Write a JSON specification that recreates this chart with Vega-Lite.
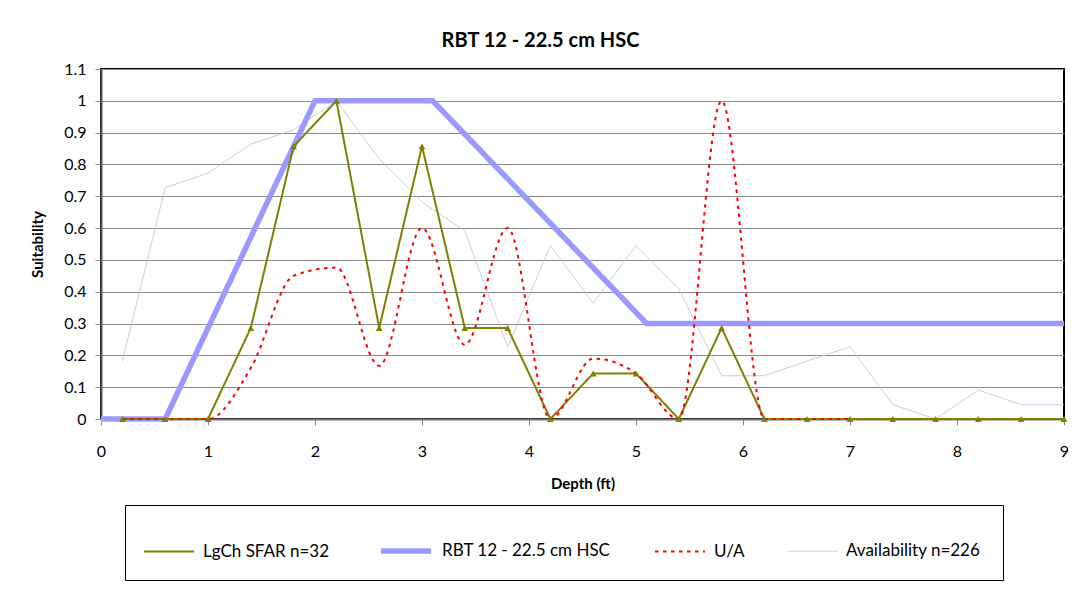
{
  "$schema": "https://vega.github.io/schema/vega-lite/v6.json",
  "width": 963,
  "height": 350,
  "autosize": {"type": "none"},
  "padding": {"left": 101, "top": 69, "right": 8, "bottom": 178},
  "background": "white",
  "config": {
    "font": "Lato",
    "view": {"stroke": "black", "strokeWidth": 2},
    "axis": {"labelFont": "Lato", "titleFont": "Lato", "labelColor": "black", "titleColor": "black"}
  },
  "title": {"text": "RBT 12 - 22.5 cm HSC", "fontSize": 20, "fontWeight": "bold", "font": "Lato", "color": "black", "anchor": "middle", "dx": -42, "offset": 10},
  "datasets": {
    "d": [
      {"series": "LgCh SFAR n=32", "depth": 0.2, "s": 0},
      {"series": "LgCh SFAR n=32", "depth": 0.6, "s": 0},
      {"series": "LgCh SFAR n=32", "depth": 1.0, "s": 0},
      {"series": "LgCh SFAR n=32", "depth": 1.4, "s": 0.286},
      {"series": "LgCh SFAR n=32", "depth": 1.8, "s": 0.857},
      {"series": "LgCh SFAR n=32", "depth": 2.2, "s": 1},
      {"series": "LgCh SFAR n=32", "depth": 2.6, "s": 0.286},
      {"series": "LgCh SFAR n=32", "depth": 3.0, "s": 0.857},
      {"series": "LgCh SFAR n=32", "depth": 3.4, "s": 0.286},
      {"series": "LgCh SFAR n=32", "depth": 3.8, "s": 0.286},
      {"series": "LgCh SFAR n=32", "depth": 4.2, "s": 0},
      {"series": "LgCh SFAR n=32", "depth": 4.6, "s": 0.143},
      {"series": "LgCh SFAR n=32", "depth": 5.0, "s": 0.143},
      {"series": "LgCh SFAR n=32", "depth": 5.4, "s": 0},
      {"series": "LgCh SFAR n=32", "depth": 5.8, "s": 0.286},
      {"series": "LgCh SFAR n=32", "depth": 6.2, "s": 0},
      {"series": "LgCh SFAR n=32", "depth": 6.6, "s": 0},
      {"series": "LgCh SFAR n=32", "depth": 7.0, "s": 0},
      {"series": "LgCh SFAR n=32", "depth": 7.4, "s": 0},
      {"series": "LgCh SFAR n=32", "depth": 7.8, "s": 0},
      {"series": "LgCh SFAR n=32", "depth": 8.2, "s": 0},
      {"series": "LgCh SFAR n=32", "depth": 8.6, "s": 0},
      {"series": "LgCh SFAR n=32", "depth": 9.0, "s": 0},
      {"series": "RBT 12 - 22.5 cm HSC", "depth": 0, "s": 0},
      {"series": "RBT 12 - 22.5 cm HSC", "depth": 0.6, "s": 0},
      {"series": "RBT 12 - 22.5 cm HSC", "depth": 2.0, "s": 1},
      {"series": "RBT 12 - 22.5 cm HSC", "depth": 3.1, "s": 1},
      {"series": "RBT 12 - 22.5 cm HSC", "depth": 5.1, "s": 0.3},
      {"series": "RBT 12 - 22.5 cm HSC", "depth": 9.0, "s": 0.3},
      {"series": "U/A", "depth": 0.2, "s": 0},
      {"series": "U/A", "depth": 0.6, "s": 0},
      {"series": "U/A", "depth": 1.0, "s": 0},
      {"series": "U/A", "depth": 1.4, "s": 0.16},
      {"series": "U/A", "depth": 1.8, "s": 0.45},
      {"series": "U/A", "depth": 2.2, "s": 0.476},
      {"series": "U/A", "depth": 2.6, "s": 0.167},
      {"series": "U/A", "depth": 3.0, "s": 0.6},
      {"series": "U/A", "depth": 3.4, "s": 0.233},
      {"series": "U/A", "depth": 3.8, "s": 0.6},
      {"series": "U/A", "depth": 4.2, "s": 0},
      {"series": "U/A", "depth": 4.6, "s": 0.19},
      {"series": "U/A", "depth": 5.0, "s": 0.143},
      {"series": "U/A", "depth": 5.4, "s": 0},
      {"series": "U/A", "depth": 5.8, "s": 1.0},
      {"series": "U/A", "depth": 6.2, "s": 0},
      {"series": "U/A", "depth": 6.6, "s": 0},
      {"series": "U/A", "depth": 7.0, "s": 0},
      {"series": "Availability  n=226", "depth": 0.2, "s": 0.182},
      {"series": "Availability  n=226", "depth": 0.6, "s": 0.727},
      {"series": "Availability  n=226", "depth": 1.0, "s": 0.773},
      {"series": "Availability  n=226", "depth": 1.4, "s": 0.864},
      {"series": "Availability  n=226", "depth": 1.8, "s": 0.909},
      {"series": "Availability  n=226", "depth": 2.2, "s": 1.0},
      {"series": "Availability  n=226", "depth": 2.6, "s": 0.818},
      {"series": "Availability  n=226", "depth": 3.0, "s": 0.682},
      {"series": "Availability  n=226", "depth": 3.4, "s": 0.591},
      {"series": "Availability  n=226", "depth": 3.8, "s": 0.227},
      {"series": "Availability  n=226", "depth": 4.2, "s": 0.545},
      {"series": "Availability  n=226", "depth": 4.6, "s": 0.364},
      {"series": "Availability  n=226", "depth": 5.0, "s": 0.545},
      {"series": "Availability  n=226", "depth": 5.4, "s": 0.409},
      {"series": "Availability  n=226", "depth": 5.8, "s": 0.136},
      {"series": "Availability  n=226", "depth": 6.2, "s": 0.136},
      {"series": "Availability  n=226", "depth": 6.6, "s": 0.182},
      {"series": "Availability  n=226", "depth": 7.0, "s": 0.227},
      {"series": "Availability  n=226", "depth": 7.4, "s": 0.045},
      {"series": "Availability  n=226", "depth": 7.8, "s": 0},
      {"series": "Availability  n=226", "depth": 8.2, "s": 0.091},
      {"series": "Availability  n=226", "depth": 8.6, "s": 0.045},
      {"series": "Availability  n=226", "depth": 9.0, "s": 0.045}
    ]
  },
  "data": {"name": "d"},
  "encoding": {
    "x": {"field": "depth", "type": "quantitative",
      "scale": {"domain": [0, 9], "nice": false, "zero": false},
      "axis": {"title": "Depth (ft)", "titleFontSize": 15, "titleFontWeight": "bold", "titlePadding": 17,
        "values": [0,1,2,3,4,5,6,7,8,9], "format": "d", "grid": false,
        "labelFontSize": 16, "labelPadding": 18, "tickSize": 6, "tickColor": "#888888",
        "domainColor": "#777777", "domainWidth": 2, "labelFlush": false}},
    "y": {"field": "s", "type": "quantitative",
      "scale": {"domain": [0, 1.1], "nice": false},
      "axis": {"title": "Suitability", "titleFontSize": 15, "titleFontWeight": "bold", "titlePadding": 18,
        "values": [0,0.1,0.2,0.3,0.4,0.5,0.6,0.7,0.8,0.9,1,1.1], "format": ".1~f",
        "grid": true, "gridColor": "#8c8c8c", "gridWidth": 1,
        "labelFontSize": 16, "labelPadding": 9, "tickSize": 6, "tickColor": "#888888",
        "domainColor": "#555555", "domainWidth": 2}},
    "color": {"field": "series", "type": "nominal",
      "scale": {"domain": ["LgCh SFAR n=32", "RBT 12 - 22.5 cm HSC", "U/A", "Availability  n=226"],
                "range": ["#808000", "#9999FF", "#FF0000", "#C4C4EC"]},
      "legend": {"title": null, "orient": "none", "legendX": 24, "legendY": 436, "direction": "horizontal",
        "symbolType": "stroke", "symbolSize": 2500, "labelFontSize": 17, "labelFont": "Lato", "labelColor": "black",
        "labelLimit": 300, "columnPadding": 40, "padding": 18, "strokeColor": "black", "fillColor": "white",
        "symbolOffset": 0, "labelOffset": 8}},
    "strokeWidth": {"field": "series", "type": "nominal",
      "scale": {"type": "ordinal", "domain": ["LgCh SFAR n=32", "RBT 12 - 22.5 cm HSC", "U/A", "Availability  n=226"],
                "range": [2, 5.5, 2, 1]}},
    "strokeDash": {"field": "series", "type": "nominal",
      "scale": {"domain": ["LgCh SFAR n=32", "RBT 12 - 22.5 cm HSC", "U/A", "Availability  n=226"],
                "range": [[1, 0], [1, 0], [3.5, 4.5], [1, 0]]}}
  },
  "layer": [
    {
      "transform": [{"filter": "datum.series === 'Availability  n=226'"}],
      "mark": {"type": "line", "interpolate": "linear"}
    },
    {
      "transform": [{"filter": "datum.series === 'RBT 12 - 22.5 cm HSC'"}],
      "mark": {"type": "line", "interpolate": "linear", "strokeJoin": "miter"}
    },
    {
      "transform": [{"filter": "datum.series === 'LgCh SFAR n=32'"}],
      "mark": {"type": "line", "interpolate": "linear"}
    },
    {
      "transform": [{"filter": "datum.series === 'U/A'"}],
      "mark": {"type": "line", "interpolate": "monotone"}
    },
    {
      "transform": [{"filter": "datum.series === 'LgCh SFAR n=32'"}],
      "mark": {"type": "point", "shape": "triangle-up", "filled": true, "size": 45, "opacity": 1},
      "encoding": {
        "color": {"value": "#808000"},
        "strokeWidth": {"value": 0},
        "strokeDash": {"value": [1, 0]}
      }
    }
  ]
}
